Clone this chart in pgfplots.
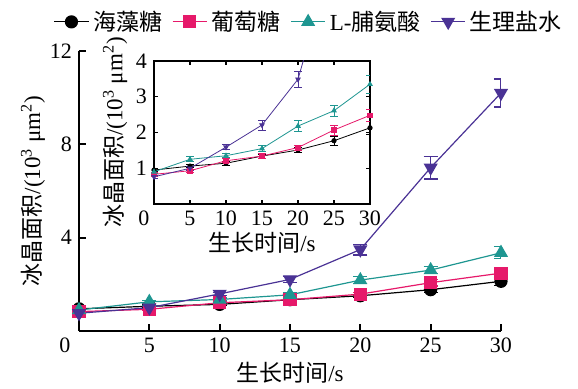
\documentclass[border=0pt]{standalone}
\usepackage{pgfplots}
\pgfplotsset{compat=1.18}
\usepackage{fontspec}
\setmainfont{Liberation Serif}
\newfontfamily\cjk{Noto Sans CJK SC}
\definecolor{cpink}{HTML}{E6196A}
\definecolor{cteal}{HTML}{1E9691}
\definecolor{cpurp}{HTML}{4A3295}
\pgfplotstableread{
x  a     ea    b     eb    c     ec    d     ed
0  0.95  0.05  0.83  0.05  0.90  0.05  0.76  0.04
5  1.06  0.05  0.93  0.05  1.25  0.07  1.00  0.05
10 1.14  0.06  1.21  0.06  1.35  0.06  1.59  0.07
15 1.34  0.06  1.34  0.07  1.55  0.08  2.21  0.14
20 1.51  0.07  1.58  0.07  2.18  0.16  3.49  0.23
25 1.77  0.12  2.07  0.14  2.61  0.16  7.00  0.49
30 2.13  0.17  2.48  0.17  3.35  0.26  10.2  0.60
}\data
\begin{document}
\begin{tikzpicture}
\begin{axis}[
  width=211pt, height=140pt, scale only axis,
  xmin=0, xmax=30, ymin=0, ymax=12,
  axis lines*=left,
  xtick={5,10,...,30}, ytick={4,8,12},
  extra x ticks={0}, extra x tick labels={0},
  extra x tick style={major tick length=0pt, ticklabel style={xshift=-7pt}},
  tick align=inside, major tick length=3.5pt,
  every tick/.style={black, line width=0.9pt},
  axis line style={line width=0.9pt},
  tick label style={font=\fontsize{11}{13}\selectfont},
  label style={font=\fontsize{11.5}{13}\selectfont},
  /pgf/number format/assume math mode=true,
  xlabel={{\cjk 生长时间}/s},
  ylabel={{\cjk 冰晶面积}/(10\textsuperscript{3} μm\textsuperscript{2})},
  xlabel style={at={(axis description cs:0.5,0)}, anchor=center, yshift=-21pt},
  ylabel style={at={(axis description cs:-0.109,0.5)}, anchor=center, rotate=0},
  legend columns=4,
  legend style={draw=none, fill=none, at={(0.547,1.104)}, anchor=center,
    font=\fontsize{11.5}{13}\selectfont,
    /tikz/every even column/.append style={column sep=3pt}},
  every axis plot/.append style={line width=0.6pt},
  error bars/error bar style={line width=0.6pt},
  error bars/error mark options={rotate=90, mark size=3.5pt, line width=0.6pt},
]
\addplot[black, mark=*, mark size=3pt, error bars/.cd, y dir=both, y explicit]
  table[x=x, y=a, y error=ea] {\data};
\addlegendentry{\cjk 海藻糖}
\addplot[cpink, mark=square*, mark size=3pt, error bars/.cd, y dir=both, y explicit]
  table[x=x, y=b, y error=eb] {\data};
\addlegendentry{\cjk 葡萄糖}
\addplot[cteal, mark=triangle*, mark size=3.5pt, error bars/.cd, y dir=both, y explicit]
  table[x=x, y=c, y error=ec] {\data};
\addlegendentry{L-{\cjk 脯氨酸}}
\addplot[cpurp, mark=triangle*, mark size=3.5pt, mark options={rotate=180}, error bars/.cd, y dir=both, y explicit]
  table[x=x, y=d, y error=ed] {\data};
\addlegendentry{\cjk 生理盐水}
\end{axis}
\begin{axis}[at={(37.5pt,63.5pt)}, anchor=south west,
  width=108pt, height=71.5pt, scale only axis,
  xmin=0, xmax=30, ymin=0, ymax=4,
  xtick={5,10,...,30}, ytick={1,2,3,4},
  extra x ticks={0}, extra x tick labels={0},
  extra x tick style={major tick length=0pt, ticklabel style={xshift=-5pt}},
  tick align=inside, major tick length=2pt,
  every tick/.style={black, line width=0.6pt},
  axis line style={line width=0.7pt},
  axis background/.style={fill=white},
  tick label style={font=\fontsize{11}{13}\selectfont},
  label style={font=\fontsize{11.5}{13}\selectfont},
  /pgf/number format/assume math mode=true,
  xlabel={{\cjk 生长时间}/s},
  ylabel={{\cjk 冰晶面积}/(10\textsuperscript{3} μm\textsuperscript{2})},
  xlabel style={at={(axis description cs:0.5,0)}, anchor=center, yshift=-19.5pt},
  ylabel style={at={(axis description cs:-0.18,0.5)}, anchor=center, rotate=0},
  every axis plot/.append style={line width=0.4pt},
  error bars/error bar style={line width=0.4pt},
  error bars/error mark options={rotate=90, mark size=1.8pt, line width=0.4pt},
]
\addplot[black, mark=*, mark size=1.1pt, error bars/.cd, y dir=both, y explicit]
  table[x=x, y=a, y error=ea] {\data};
\addplot[cpink, mark=square*, mark size=1.2pt, error bars/.cd, y dir=both, y explicit]
  table[x=x, y=b, y error=eb] {\data};
\addplot[cteal, mark=triangle*, mark size=1.3pt, error bars/.cd, y dir=both, y explicit]
  table[x=x, y=c, y error=ec] {\data};
\addplot[cpurp, mark=triangle*, mark size=1.3pt, mark options={rotate=180}, error bars/.cd, y dir=both, y explicit]
  table[x=x, y=d, y error=ed] {\data};
\end{axis}
\pgfresetboundingbox
\useasboundingbox (-39.5pt,-29pt) rectangle (249.5pt,165.5pt);
\end{tikzpicture}
\end{document}
